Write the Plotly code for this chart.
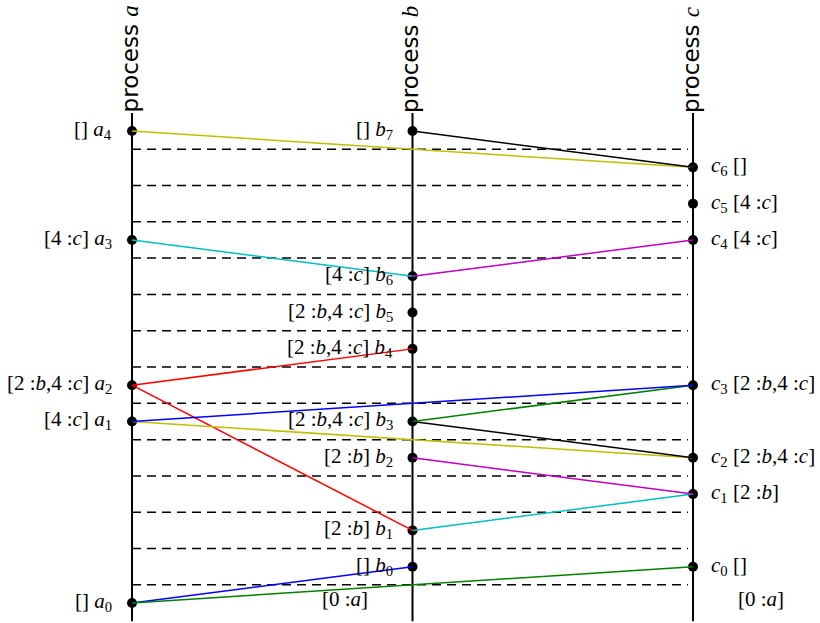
import plotly.graph_objects as go

# process columns
processes = ["a", "b", "c"]
proc_x = {"a": 0, "b": 1, "c": 2}

# events: process, time, state label, event name, subscript
ev_proc = ["a", "a", "a", "a", "a",
           "b", "b", "b", "b", "b", "b", "b", "b",
           "c", "c", "c", "c", "c", "c", "c"]
ev_time = [0, 5, 6, 10, 13,
           1, 2, 4, 5, 7, 8, 9, 13,
           1, 3, 4, 6, 10, 11, 12]
ev_idx = [0, 1, 2, 3, 4,
          0, 1, 2, 3, 4, 5, 6, 7,
          0, 1, 2, 3, 4, 5, 6]
ev_state = ["[]", "[4 :<i>c</i>]", "[2 :<i>b</i>,4 :<i>c</i>]", "[4 :<i>c</i>]", "[]",
            "[]", "[2 :<i>b</i>]", "[2 :<i>b</i>]", "[2 :<i>b</i>,4 :<i>c</i>]",
            "[2 :<i>b</i>,4 :<i>c</i>]", "[2 :<i>b</i>,4 :<i>c</i>]", "[4 :<i>c</i>]", "[]",
            "[]", "[2 :<i>b</i>]", "[2 :<i>b</i>,4 :<i>c</i>]", "[2 :<i>b</i>,4 :<i>c</i>]",
            "[4 :<i>c</i>]", "[4 :<i>c</i>]", "[]"]

# initial states shown at time 0 for b and c
init_proc = ["b", "c"]
init_state = ["[0 :<i>a</i>]", "[0 :<i>a</i>]"]

# messages: from (process, time) to (process, time), colour
msg_p1 = ["a", "a", "a", "b", "b", "a", "b", "b", "a", "a", "a", "b", "a", "b"]
msg_t1 = [0, 0, 6, 2, 4, 5, 5, 5, 5, 6, 10, 9, 13, 13]
msg_p2 = ["b", "c", "b", "c", "c", "c", "c", "c", "c", "b", "b", "c", "c", "c"]
msg_t2 = [1, 1, 2, 3, 3, 4, 4, 6, 6, 7, 9, 10, 12, 12]
msg_col = ["#0000ff", "#008000", "#ff0000", "#00bfbf", "#bf00bf", "#bfbf00", "#000000",
           "#008000", "#0000ff", "#ff0000", "#00bfbf", "#bf00bf", "#bfbf00", "#000000"]

# dashed separators between time steps
sep_times = [0.5, 1.5, 2.5, 3.5, 4.5, 5.5, 6.5, 7.5, 8.5, 9.5, 10.5, 11.5, 12.5]

t_min, t_max = -0.5, 13.5

fig = go.Figure()

# dashed separators
for t in sep_times:
    fig.add_trace(go.Scatter(x=[0, 1.982], y=[t, t], mode="lines",
                             line=dict(color="black", width=1.5, dash="9px,6px"),
                             hoverinfo="skip"))

# process lines
for p in processes:
    fig.add_trace(go.Scatter(x=[proc_x[p], proc_x[p]], y=[t_min, t_max], mode="lines",
                             line=dict(color="black", width=2), hoverinfo="skip"))

# event markers
fig.add_trace(go.Scatter(x=[proc_x[p] for p in ev_proc], y=ev_time, mode="markers",
                         marker=dict(color="black", size=10), hoverinfo="skip"))

# messages
for p1, t1, p2, t2, c in zip(msg_p1, msg_t1, msg_p2, msg_t2, msg_col):
    fig.add_trace(go.Scatter(x=[proc_x[p1], proc_x[p2]], y=[t1, t2], mode="lines",
                             line=dict(color=c, width=1.5), hoverinfo="skip"))

annotations = []
FONT = dict(family="Liberation Serif", size=21, color="black")
for p, t, i, s in zip(ev_proc, ev_time, ev_idx, ev_state):
    name = f"<i>{p}</i><sub>{i}</sub>"
    if p == "c":
        annotations.append(dict(x=proc_x[p], y=t, xref="x", yref="y", text=f"{name} {s}",
                                showarrow=False, xanchor="left", yanchor="middle",
                                xshift=16, yshift=1, font=FONT))
    else:
        annotations.append(dict(x=proc_x[p], y=t, xref="x", yref="y", text=f"{s} {name}",
                                showarrow=False, xanchor="right", yanchor="middle",
                                xshift=-18, yshift=1, font=FONT))
for p, s in zip(init_proc, init_state):
    if p == "c":
        annotations.append(dict(x=proc_x[p], y=0, xref="x", yref="y", text=s,
                                showarrow=False, xanchor="left", yanchor="middle",
                                xshift=43, yshift=4, font=FONT))
    else:
        annotations.append(dict(x=proc_x[p], y=0, xref="x", yref="y", text=s,
                                showarrow=False, xanchor="right", yanchor="middle",
                                xshift=-43, yshift=4, font=FONT))

for p in processes:
    annotations.append(dict(x=proc_x[p], y=t_max, xref="x", yref="y",
                            text=f"process <span style='font-family:Liberation Serif'><i>{p}</i></span>",
                            showarrow=False, textangle=-90, xanchor="center", yanchor="bottom",
                            xshift=-2, yshift=-2, font=dict(family="DejaVu Sans", size=23, color="black")))

fig.update_layout(
    width=820, height=623, margin=dict(l=0, r=0, t=0, b=0),
    paper_bgcolor="white", plot_bgcolor="white", showlegend=False,
    xaxis=dict(range=[-0.4706, 2.4528], visible=False, fixedrange=True),
    yaxis=dict(range=[-0.551, 16.61], visible=False, fixedrange=True),
    annotations=annotations,
)

fig.write_html("out.html")
